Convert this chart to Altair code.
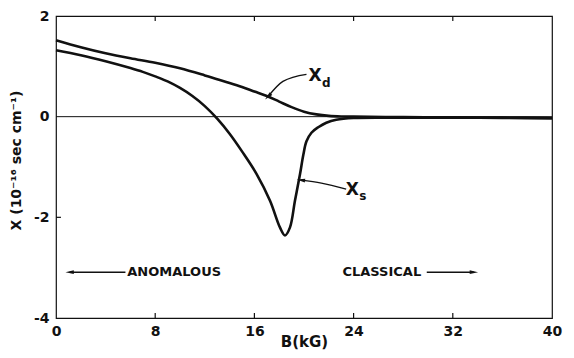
import altair as alt
import pandas as pd

# ---- data ----
B_d = [0, 2, 4, 6, 8, 10, 12, 13, 14, 15, 16, 17, 18, 19, 20, 21, 22, 23, 24,
       28, 32, 36, 40]
X_d = [1.52, 1.38, 1.26, 1.16, 1.07, 0.96, 0.82, 0.745, 0.67, 0.59, 0.50, 0.41, 0.30,
       0.19, 0.10, 0.045, 0.015, 0.003, 0.0, -0.01, -0.015, -0.02, -0.03]

B_s = [0, 2, 4, 6, 7, 8, 9, 10, 11, 12, 13, 14, 15, 16.18, 17.26, 18.06, 18.47,
       18.87, 19.27, 19.68, 19.95, 20.2, 20.6, 21.15, 21.8, 22.6, 24, 28, 32, 36, 40]
X_s = [1.32, 1.22, 1.10, 0.965, 0.89, 0.80, 0.70, 0.57, 0.41, 0.21, -0.04, -0.34,
       -0.69, -1.14, -1.67, -2.2, -2.36, -2.2, -1.67, -1.14, -0.75, -0.49, -0.32,
       -0.21, -0.12, -0.06, -0.025, -0.02, -0.02, -0.025, -0.03]

x_ticks = [0, 8, 16, 24, 32, 40]
y_ticks = [-4, -2, 0, 2]
inner_x_ticks = [8, 16, 24, 32]
inner_y_ticks = [-2]

# annotation arrows (data coordinates)
arrow_d_B = [20.2, 18.3, 17.1]
arrow_d_X = [0.84, 0.70, 0.40]
arrow_s_B = [23.4, 21.4, 19.75]
arrow_s_X = [-1.44, -1.32, -1.26]
anom_B = [5.6, 1.1]
class_B = [29.9, 33.7]
regime_X = -3.09

FONT = "DejaVu Sans"
INK = "#111111"

x_scale = alt.Scale(domain=[0, 40], nice=False, zero=False)
y_scale = alt.Scale(domain=[-4, 2], nice=False, zero=False)

curves = pd.DataFrame(
    {"B": B_d + B_s, "X": X_d + X_s,
     "series": ["d"] * len(B_d) + ["s"] * len(B_s)}
)

xenc = alt.X(
    "B:Q", scale=x_scale,
    axis=alt.Axis(values=x_ticks, format="d", title="B(kG)", ticks=False, domain=False,
                  grid=False, labelFlush=False, labelFont=FONT, labelFontWeight="bold",
                  labelFontSize=14, labelColor=INK, labelPadding=6,
                  titleFont=FONT, titleFontWeight="bold", titleFontSize=15,
                  titleColor=INK, titleY=23, titleBaseline="middle"),
)
yenc = alt.Y(
    "X:Q", scale=y_scale,
    axis=alt.Axis(values=y_ticks, title="X (10⁻¹⁶ sec cm⁻¹)", ticks=False, domain=False,
                  grid=False,
                  labelExpr="datum.value < 0 ? '-' + (-datum.value) : datum.label",
                  labelFont=FONT, labelFontWeight="bold", labelFontSize=14,
                  labelColor=INK, labelPadding=7,
                  titleFont=FONT, titleFontWeight="bold", titleFontSize=14,
                  titleColor=INK, titleX=-40, titleY=144, titleAngle=-90,
                  titleBaseline="middle", titleAlign="center"),
)

line_layer = alt.Chart(curves).mark_line(
    color=INK, strokeWidth=2.6, interpolate="catmull-rom"
).encode(x=xenc, y=yenc, detail="series:N")

zero = alt.Chart(pd.DataFrame({"B": [0], "B2": [40], "X": [0]})).mark_rule(
    color=INK, strokeWidth=1
).encode(x=alt.X("B:Q", scale=x_scale), x2="B2:Q", y=alt.Y("X:Q", scale=y_scale))

tick_df = pd.DataFrame(
    {"B": inner_x_ticks * 2,
     "y1": [-4] * len(inner_x_ticks) + [2] * len(inner_x_ticks),
     "y2": [-3.9] * len(inner_x_ticks) + [1.9] * len(inner_x_ticks)}
)
xticks_layer = alt.Chart(tick_df).mark_rule(color=INK, strokeWidth=1.2).encode(
    x=alt.X("B:Q", scale=x_scale), y=alt.Y("y1:Q", scale=y_scale), y2="y2:Q"
)
ytick_df = pd.DataFrame({"x1": [0] * len(inner_y_ticks), "x2": [0.4] * len(inner_y_ticks),
                         "X": inner_y_ticks})
yticks_layer = alt.Chart(ytick_df).mark_rule(color=INK, strokeWidth=1.2).encode(
    x=alt.X("x1:Q", scale=x_scale), x2="x2:Q", y=alt.Y("X:Q", scale=y_scale)
)

arrows = pd.DataFrame({
    "B": arrow_d_B + arrow_s_B + anom_B + class_B,
    "X": arrow_d_X + arrow_s_X + [regime_X] * 4,
    "arrow": ["d"] * 3 + ["s"] * 3 + ["a"] * 2 + ["c"] * 2,
    "order": [0, 1, 2] * 2 + [0, 1] * 2,
})
arrow_lines = alt.Chart(arrows).mark_line(
    color=INK, strokeWidth=1.4, interpolate="monotone"
).encode(x=alt.X("B:Q", scale=x_scale), y=alt.Y("X:Q", scale=y_scale),
         detail="arrow:N", order="order:Q")

head_shape = "M0,-1L0.45,1L-0.45,1Z"
heads = pd.DataFrame({
    "B": [arrow_d_B[-1], arrow_s_B[-1], anom_B[-1], class_B[-1]],
    "X": [arrow_d_X[-1], arrow_s_X[-1], regime_X, regime_X],
    "ang": [225, 278, 270, 90],
})
head_layer = alt.Chart(heads).mark_point(
    shape=head_shape, filled=True, color=INK, size=70, opacity=1
).encode(x=alt.X("B:Q", scale=x_scale), y=alt.Y("X:Q", scale=y_scale),
         angle=alt.Angle("ang:Q", scale=None))

labels_big = pd.DataFrame({
    "B": [20.9, 23.9], "X": [0.80, -1.45], "t": ["X", "X"]})
labels_sub = pd.DataFrame({
    "B": [21.8, 24.75], "X": [0.66, -1.57], "t": ["d", "s"]})
big_layer = alt.Chart(labels_big).mark_text(
    font=FONT, fontWeight="bold", fontSize=17, color=INK
).encode(x=alt.X("B:Q", scale=x_scale), y=alt.Y("X:Q", scale=y_scale), text="t:N")
sub_layer = alt.Chart(labels_sub).mark_text(
    font=FONT, fontWeight="bold", fontSize=12, color=INK
).encode(x=alt.X("B:Q", scale=x_scale), y=alt.Y("X:Q", scale=y_scale), text="t:N")

regime = pd.DataFrame({"B": [5.75, 23.1], "X": [regime_X, regime_X],
                       "t": ["ANOMALOUS", "CLASSICAL"]})
regime_layer = alt.Chart(regime).mark_text(
    font=FONT, fontWeight="bold", fontSize=13, color=INK, align="left",
    baseline="middle"
).encode(x=alt.X("B:Q", scale=x_scale), y=alt.Y("X:Q", scale=y_scale), text="t:N")

chart = alt.layer(
    zero, xticks_layer, yticks_layer, line_layer, arrow_lines, head_layer,
    big_layer, sub_layer, regime_layer
).properties(
    width=496, height=302,
    autosize=alt.AutoSizeParams(type="none"),
    padding={"left": 56, "top": 16, "right": 22, "bottom": 40},
    background="white",
).configure_view(stroke=INK, strokeWidth=1.2)

chart.save("out.html", embed_options={"renderer": "svg", "actions": False})
